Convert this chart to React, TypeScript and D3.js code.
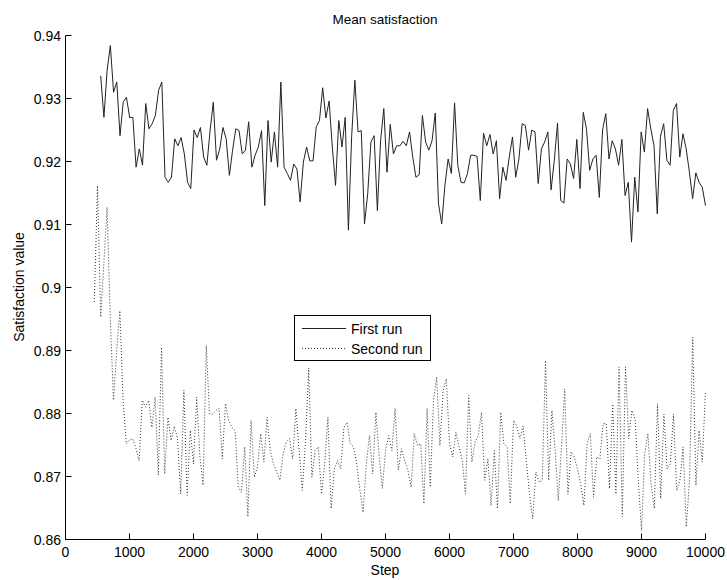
import * as d3 from "d3"
import React, { useEffect, useRef } from "react"

const firstRun = [
  0.9336, 0.9270, 0.9345, 0.9384, 0.9310, 0.9326, 0.9241, 0.9294, 0.9302, 0.9270,
  0.9270, 0.9191, 0.9220, 0.9194, 0.9292, 0.9252, 0.9260, 0.9273, 0.9313, 0.9326,
  0.9175, 0.9167, 0.9175, 0.9236, 0.9225, 0.9238, 0.9212, 0.9167, 0.9157, 0.9250,
  0.9238, 0.9254, 0.9207, 0.9194, 0.9249, 0.9294, 0.9202, 0.9220, 0.9254, 0.9236,
  0.9178, 0.9218, 0.9252, 0.9249, 0.9212, 0.9218, 0.9263, 0.9191, 0.9210, 0.9223,
  0.9249, 0.9130, 0.9265, 0.9199, 0.9247, 0.9191, 0.9326, 0.9191, 0.9181, 0.9170,
  0.9196, 0.9188, 0.9136,
  0.9199, 0.9223, 0.9201, 0.9201, 0.9255, 0.9265, 0.9317, 0.9269, 0.9296, 0.9223,
  0.9162, 0.9265, 0.9223, 0.9270, 0.9091, 0.9239, 0.9329, 0.9247, 0.9249, 0.9101,
  0.9149, 0.9231, 0.9241, 0.9122, 0.9233, 0.9284, 0.9183, 0.9259, 0.9212, 0.9225,
  0.9225, 0.9232, 0.9225, 0.9247, 0.9207, 0.9175, 0.9179, 0.9273, 0.9231, 0.9218,
  0.9233, 0.9277, 0.9133, 0.9101, 0.9162, 0.9204, 0.9181, 0.9293, 0.9194, 0.9167,
  0.9166, 0.9181, 0.9210, 0.9210, 0.9208, 0.9138, 0.9245, 0.9225, 0.9243, 0.9212,
  0.9233, 0.9141,
  0.9191, 0.9170, 0.9207, 0.9239, 0.9175, 0.9204, 0.9260, 0.9257, 0.9218, 0.9250,
  0.9247, 0.9165, 0.9220, 0.9231, 0.9247, 0.9155, 0.9202, 0.9261, 0.9138, 0.9134,
  0.9204, 0.9196, 0.9173, 0.9235, 0.9157, 0.9278, 0.9252, 0.9186, 0.9204, 0.9210,
  0.9143, 0.9250, 0.9276, 0.9204, 0.9233, 0.9220, 0.9194, 0.9235, 0.9146, 0.9167,
  0.9072, 0.9175, 0.9120, 0.9247, 0.9215, 0.9284, 0.9252, 0.9225, 0.9117, 0.9240,
  0.9260, 0.9202, 0.9194, 0.9281, 0.9292, 0.9207, 0.9244, 0.9220, 0.9183, 0.9141,
  0.9182, 0.9167, 0.9159, 0.9130,
]

const secondRun = [
  0.8977, 0.9162, 0.8953, 0.9040, 0.9127, 0.8950, 0.8821, 0.8900, 0.8963, 0.8820,
  0.8752, 0.8758, 0.8760, 0.8745, 0.8725, 0.8821, 0.8810, 0.8821, 0.8778, 0.8826,
  0.8702, 0.8905, 0.8704, 0.8794, 0.8757, 0.8780, 0.8760, 0.8672, 0.8837, 0.8670,
  0.8773, 0.8720, 0.8826, 0.8731, 0.8686, 0.8908, 0.8799, 0.8799, 0.8805, 0.8808,
  0.8728, 0.8816, 0.8789, 0.8778, 0.8773, 0.8683, 0.8675, 0.8747,
  0.8636, 0.8789, 0.8699, 0.8715, 0.8768, 0.8723, 0.8794, 0.8741, 0.8720, 0.8707,
  0.8694, 0.8736, 0.8755, 0.8760, 0.8728, 0.8808, 0.8741, 0.8678, 0.8757, 0.8872,
  0.8699, 0.8741, 0.8747, 0.8672, 0.8720, 0.8794, 0.8649, 0.8712, 0.8725, 0.8712,
  0.8778, 0.8786, 0.8752, 0.8747, 0.8720, 0.8678, 0.8643, 0.8720, 0.8765, 0.8704,
  0.8802, 0.8733, 0.8681, 0.8741, 0.8765, 0.8741, 0.8808, 0.8710, 0.8744, 0.8725,
  0.8710, 0.8683, 0.8768, 0.8749, 0.8752, 0.8657, 0.8808, 0.8683, 0.8821, 0.8858,
  0.8749, 0.8836, 0.8855, 0.8752, 0.8731, 0.8770, 0.8747, 0.8725, 0.8672, 0.8829,
  0.8723, 0.8755, 0.8765, 0.8802, 0.8694, 0.8728,
  0.8654, 0.8741, 0.8649, 0.8802, 0.8752, 0.8747, 0.8657, 0.8789, 0.8780, 0.8760,
  0.8780, 0.8725, 0.8672, 0.8633, 0.8707, 0.8691, 0.8694, 0.8884, 0.8694, 0.8805,
  0.8741, 0.8662, 0.8747, 0.8839, 0.8672, 0.8739, 0.8731, 0.8712, 0.8688, 0.8654,
  0.8752, 0.8768, 0.8667, 0.8731, 0.8728, 0.8784, 0.8784, 0.8681, 0.8815, 0.8672,
  0.8874, 0.8636, 0.8874, 0.8760, 0.8805, 0.8791, 0.8694, 0.8614, 0.8736, 0.8768,
  0.8688, 0.8649, 0.8815, 0.8665, 0.8799, 0.8712, 0.8720, 0.8799, 0.8678, 0.8694,
  0.8747, 0.8620, 0.8694, 0.8921, 0.8686, 0.8773, 0.8723, 0.8836,
]

const firstStart = 550
const secondStart = 450
const lastStep = 10000

const xTicks = [0, 1000, 2000, 3000, 4000, 5000, 6000, 7000, 8000, 9000, 10000]
const yTicks = [0.86, 0.87, 0.88, 0.89, 0.9, 0.91, 0.92, 0.93, 0.94]
const legendLabels = ["First run", "Second run"]

const FONT = "'Liberation Sans', Arial, sans-serif"

const withSteps = (values: number[], start: number) => {
  // spread the samples evenly from start to the last step
  const step = (lastStep - start) / (values.length - 1)
  return values.map((v, i) => ({ x: start + i * step, y: v }))
}

const App = () => {
  const refSvg = useRef<SVGSVGElement>(null)

  useEffect(() => {
    const svg = d3.select(refSvg.current)
    svg.selectAll("*").remove()

    const scaleX = d3.scaleLinear().domain([0, 10000]).range([65.5, 705.5])
    const scaleY = d3.scaleLinear().domain([0.86, 0.94]).range([539.5, 35.5])

    const line = d3.line<{ x: number, y: number }>()
      .x(d => scaleX(d.x))
      .y(d => scaleY(d.y))

    // data lines
    svg.append("path")
      .datum(withSteps(secondRun, secondStart))
      .attr("d", line)
      .attr("fill", "none")
      .attr("stroke", "#333")
      .attr("stroke-width", 1)
      .attr("stroke-dasharray", "1 2")

    svg.append("path")
      .datum(withSteps(firstRun, firstStart))
      .attr("d", line)
      .attr("fill", "none")
      .attr("stroke", "#222")
      .attr("stroke-width", 1)

    // axes, ticks pointing inwards
    const gAxes = svg.append("g").attr("stroke", "#000").attr("stroke-width", 1)
    gAxes.append("line")
      .attr("x1", 65.5).attr("x2", 65.5)
      .attr("y1", scaleY(0.94)).attr("y2", 539.5)
    gAxes.append("line")
      .attr("x1", 65.5).attr("x2", 705.5)
      .attr("y1", 539.5).attr("y2", 539.5)

    gAxes.selectAll(".tick-y")
      .data(yTicks)
      .join("line")
      .attr("class", "tick-y")
      .attr("x1", 65.5).attr("x2", 71.5)
      .attr("y1", d => Math.round(scaleY(d) - 0.5) + 0.5)
      .attr("y2", d => Math.round(scaleY(d) - 0.5) + 0.5)

    gAxes.selectAll(".tick-x")
      .data(xTicks)
      .join("line")
      .attr("class", "tick-x")
      .attr("x1", d => Math.round(scaleX(d) - 0.5) + 0.5)
      .attr("x2", d => Math.round(scaleX(d) - 0.5) + 0.5)
      .attr("y1", 539.5).attr("y2", 533.5)

    const gText = svg.append("g")
      .attr("font-family", FONT)
      .attr("font-size", 14)
      .attr("fill", "#000")

    gText.selectAll(".label-y")
      .data(yTicks)
      .join("text")
      .attr("class", "label-y")
      .attr("x", 61)
      .attr("y", d => scaleY(d) + 5)
      .attr("text-anchor", "end")
      .text(d => String(d))

    gText.selectAll(".label-x")
      .data(xTicks)
      .join("text")
      .attr("class", "label-x")
      .attr("x", d => scaleX(d))
      .attr("y", 557)
      .attr("text-anchor", "middle")
      .text(d => String(d))

    gText.append("text")
      .attr("x", 385).attr("y", 24)
      .attr("text-anchor", "middle")
      .attr("font-size", 13.5)
      .text("Mean satisfaction")

    gText.append("text")
      .attr("x", 385).attr("y", 575)
      .attr("text-anchor", "middle")
      .text("Step")

    gText.append("text")
      .attr("transform", "translate(24, 287) rotate(-90)")
      .attr("text-anchor", "middle")
      .text("Satisfaction value")

    // legend
    const gLegend = svg.append("g")
    gLegend.append("rect")
      .attr("x", 294.5).attr("y", 315.5)
      .attr("width", 136).attr("height", 45)
      .attr("fill", "#fff")
      .attr("stroke", "#000")

    gLegend.selectAll(".legend-line")
      .data(legendLabels)
      .join("line")
      .attr("class", "legend-line")
      .attr("x1", 302).attr("x2", 346)
      .attr("y1", (d, i) => 328.5 + i * 20)
      .attr("y2", (d, i) => 328.5 + i * 20)
      .attr("stroke", (d, i) => i === 0 ? "#222" : "#333")
      .attr("stroke-dasharray", (d, i) => i === 0 ? null : "1 2")

    gLegend.selectAll(".legend-text")
      .data(legendLabels)
      .join("text")
      .attr("class", "legend-text")
      .attr("x", 351)
      .attr("y", (d, i) => 333.5 + i * 20.5)
      .attr("font-family", FONT)
      .attr("font-size", 14)
      .text(d => d)
  }, [])

  return (
    <svg
      ref={refSvg}
      width={727}
      height={580}
      style={{ position: "absolute", left: 0, top: 0, background: "#fff" }}
    ></svg>
  )
}

export default App
